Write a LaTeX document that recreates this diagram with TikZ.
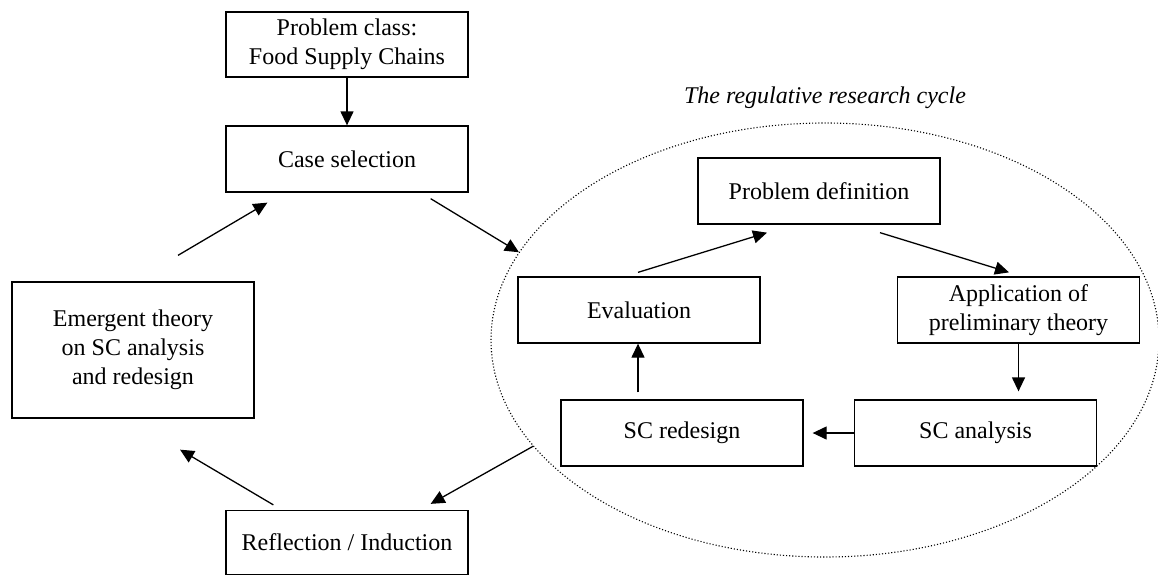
\documentclass[tikz,border=0pt]{standalone}
\usepackage{fontspec}
\setmainfont{Liberation Serif}
\usetikzlibrary{arrows.meta,shapes.geometric,calc}
\begin{document}
\begin{tikzpicture}[x=1pt,y=-1pt,
  box/.style={draw,line width=1.3pt,minimum width=242pt,minimum height=66pt,inner sep=0pt,align=center,
    font=\fontsize{24}{29}\selectfont},
  conn/.style={line width=1.3pt,-{Triangle[length=14pt,width=13pt]}},
  cyc/.style={draw,ellipse,dotted,line width=1.1pt,minimum width=668pt,minimum height=434pt,inner sep=0pt}]
\useasboundingbox (0,0) rectangle (1158,576);
\node[cyc] (ell) at (825,340) {};
\node[anchor=base,font=\fontsize{24}{29}\selectfont\itshape] (title) at (825,103) {The regulative research cycle};
\node[box,minimum height=65pt] (prob) at (347,44.5) {Problem class:\\Food Supply Chains};
\node[box] (case) at (347,159) {Case selection};
\node[box,minimum height=136pt] (emerg) at (133,350) {Emergent theory\\on SC analysis\\ and redesign};
\node[box,minimum height=64pt] (refl) at (347,542.5) {Reflection / Induction};
\node[box] (pdef) at (819,191) {Problem definition};
\node[box] (app) at (1018.5,310) {Application of\\preliminary theory};
\node[box] (eval) at (639,310) {Evaluation};
\node[box] (scan) at (975.5,433) {SC analysis};
\node[box] (scred) at (682,433) {SC redesign};
\draw[conn] (prob.south) -- (case.north);
\draw[conn] ($(case.south east)+(-38,6)$) -- (ell.164);
\draw[conn] ($(emerg.north)+(45,-26)$) -- ($(case.south west)+(42,10)$);
\draw[conn] ($(refl.north west)+(48,-5)$) -- ($(emerg.south)+(47,31)$);
\draw[conn] (ell.200) -- ($(refl.north east)+(-38,-6)$);
\draw[conn] ($(eval.north)+(-1,-4)$) -- ($(pdef.south)+(-52,8)$);
\draw[conn] ($(pdef.south)+(61,8)$) -- ($(app.north)+(-9.5,-4)$);
\draw[conn] (app.south) -- ($(scan.north)+(43,-8)$);
\draw[conn] (scan.west) -- ($(scred.east)+(9,0)$);
\draw[conn] ($(scred.north)+(-44,-7)$) -- ($(eval.south)+(-1,0)$);
\end{tikzpicture}
\end{document}
